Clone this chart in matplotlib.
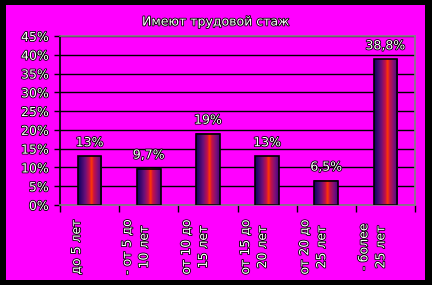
import matplotlib
matplotlib.use("Agg")
import matplotlib.pyplot as plt
import matplotlib.patheffects as pe
import matplotlib.transforms as mtransforms
from matplotlib.colors import LinearSegmentedColormap
from matplotlib.patches import Rectangle
import numpy as np

TITLE = "Имеют трудовой стаж"
CATEGORIES = ["до 5 лет", "- от 5 до\n10 лет", "от 10 до\n15 лет",
              "от 15 до\n20 лет", "от 20 до\n25 лет", "- более\n25 лет"]
VALUES = [13, 9.7, 19, 13, 6.5, 38.8]
VALUE_LABELS = ["13%", "9,7%", "19%", "13%", "6,5%", "38,8%"]
Y_TICKS = [0, 5, 10, 15, 20, 25, 30, 35, 40, 45]

BG = "#ff00ff"
OUTLINE = [pe.withStroke(linewidth=1.2, foreground="black")]
TXT = dict(color="white", fontsize=9, family="DejaVu Sans", path_effects=OUTLINE)

bar_cmap = LinearSegmentedColormap.from_list("bar", [
    (0.00, "#0a0060"), (0.30, "#6a107a"), (0.48, "#c81048"),
    (0.57, "#ff3a00"), (0.66, "#c81048"), (0.85, "#7a107a"), (1.00, "#4a0080")])

fig = plt.figure(figsize=(4.32, 2.85), dpi=100)
fig.patch.set_facecolor("black")
W, H = 432, 285
fig.patches.append(Rectangle((6 / W, 1 - 280 / H), (425 - 6) / W, (280 - 5) / H,
                             transform=fig.transFigure, facecolor=BG, edgecolor="none", zorder=-10))

ax = fig.add_axes([60 / W, 1 - 205 / H, (415 - 60) / W, (205 - 36) / H])
ax.set_facecolor(BG)
x = np.arange(len(VALUES))
bars = ax.bar(x, VALUES, width=0.4, facecolor="none", edgecolor="black", lw=1.2, zorder=3)

grad = np.linspace(0, 1, 64)[None, :]
for b in bars:
    x0, w, h = b.get_x(), b.get_width(), b.get_height()
    ax.imshow(grad, cmap=bar_cmap, aspect="auto", extent=(x0, x0 + w, 0, h),
              interpolation="bilinear", zorder=2)

for b, lbl in zip(bars, VALUE_LABELS):
    ax.annotate(lbl, (b.get_x() + b.get_width() / 2, b.get_height()),
                xytext=(0, 5), textcoords="offset points", ha="center", va="bottom", **TXT)

ax.set_xlim(-0.5, len(VALUES) - 0.5)
ax.set_ylim(0, 45)
ax.set_yticks(Y_TICKS)
ax.set_yticklabels([f"{t}%" for t in Y_TICKS], **TXT)
ax.tick_params(axis="y", direction="out", length=4, width=1, color="black", pad=4)
ax.yaxis.grid(True, color="black", lw=1)
ax.set_axisbelow(True)

ax.set_xticks(np.arange(-0.5, len(VALUES)), labels=[])
ax.tick_params(axis="x", direction="out", length=5, width=1, color="black")

for side in ("top", "right", "bottom"):
    ax.spines[side].set_color("#808080")
ax.spines["left"].set_color("black")
for s in ax.spines.values():
    s.set_linewidth(1.2)

offset = mtransforms.ScaledTranslation(-0.13, -0.42, fig.dpi_scale_trans)
for xi, cat in zip(x, CATEGORIES):
    ax.text(xi, 0, cat, rotation=90, ha="center", va="center", multialignment="center",
            linespacing=1.4, transform=ax.get_xaxis_transform() + offset, **TXT)

fig.text(216 / W, 1 - 22 / H, TITLE, ha="center", va="center", **TXT)

fig.savefig("out.png", dpi=100, facecolor=fig.get_facecolor())
